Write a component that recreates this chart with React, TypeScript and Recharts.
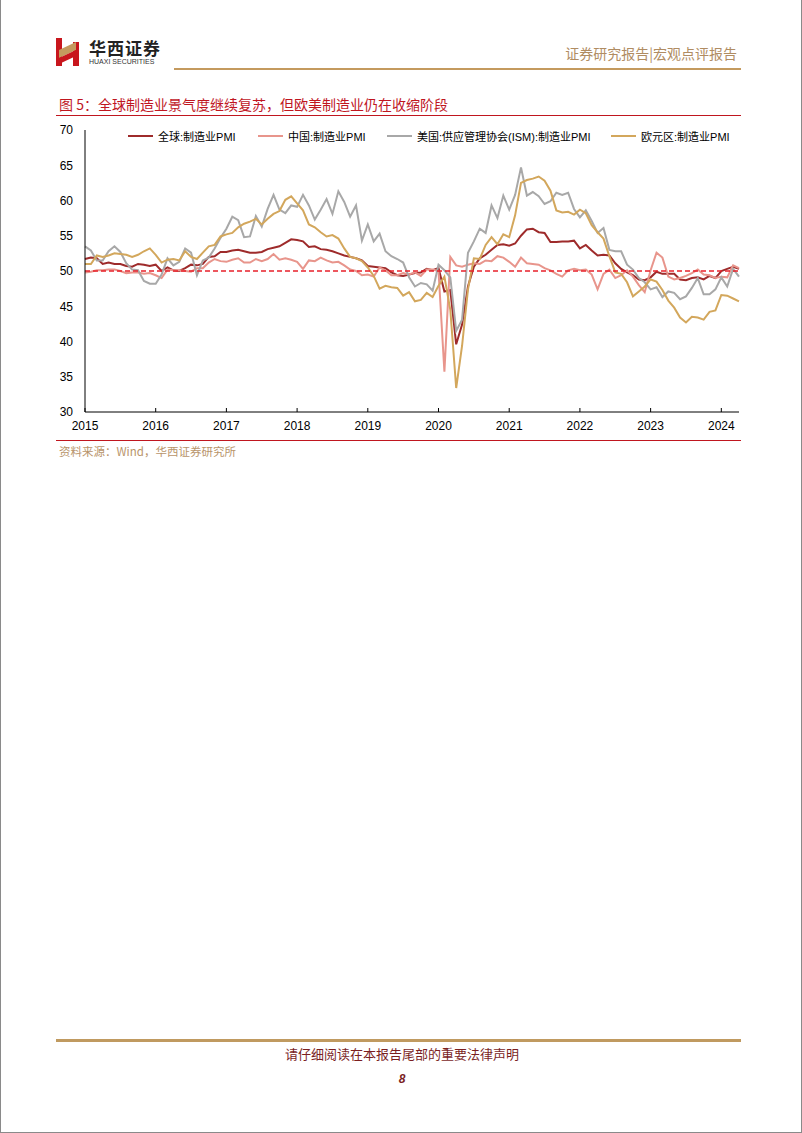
import React from "react";
import { LineChart, Line, XAxis, YAxis, ReferenceLine, Legend } from "recharts";

// months Jan 2015 .. Apr 2024
const months: string[] = [];
for (let y = 2015; y <= 2024; y++) {
  const last = y === 2024 ? 4 : 12;
  for (let m = 1; m <= last; m++) months.push(`${y}-${String(m).padStart(2, "0")}`);
}

const yearTicks = ["2015-01", "2016-01", "2017-01", "2018-01", "2019-01", "2020-01", "2021-01", "2022-01", "2023-01", "2024-01"];
const yTicks = [30, 35, 40, 45, 50, 55, 60, 65, 70];

const globalPmi = [
  51.7, 51.9, 51.8, 51.0, 51.2, 51.0, 51.0, 50.7, 50.6, 51.0, 50.9, 50.7,
  50.9, 50.0, 50.5, 50.1, 50.0, 50.4, 50.9, 50.8, 51.0, 52.0, 52.1, 52.7,
  52.7, 52.9, 53.0, 52.8, 52.6, 52.6, 52.7, 53.1, 53.3, 53.5, 54.0, 54.5,
  54.4, 54.2, 53.4, 53.5, 53.1, 53.0, 52.8, 52.5, 52.2, 52.0, 51.8, 51.5,
  50.7, 50.6, 50.5, 50.4, 49.8, 49.4, 49.3, 49.5, 49.7, 49.8, 50.3, 50.1,
  50.4, 47.1, 47.3, 39.6, 42.4, 47.8, 50.6, 51.8, 52.3, 53.0, 53.7, 53.8,
  53.6, 53.9, 55.0, 55.9, 56.0, 55.5, 55.4, 54.1, 54.1, 54.2, 54.2, 54.3,
  53.2, 53.7, 52.9, 52.2, 52.3, 52.2, 51.1, 50.3, 49.8, 49.4, 48.8, 48.7,
  49.1, 49.9, 49.6, 49.6, 49.6, 48.8, 48.7, 49.0, 49.1, 48.8, 49.3, 49.0,
  50.0, 50.3, 50.6, 50.3,
];

const chinaPmi = [
  49.8, 49.9, 50.1, 50.1, 50.2, 50.2, 50.0, 49.7, 49.8, 49.8, 49.6, 49.7,
  49.4, 49.0, 50.2, 50.1, 50.1, 50.0, 49.9, 50.4, 50.4, 51.2, 51.7, 51.4,
  51.3, 51.6, 51.8, 51.2, 51.2, 51.7, 51.4, 51.7, 52.4, 51.6, 51.8, 51.6,
  51.3, 50.3, 51.5, 51.4, 51.9, 51.5, 51.2, 51.3, 50.8, 50.2, 50.0, 49.4,
  49.5, 49.2, 50.5, 50.1, 49.4, 49.4, 49.7, 49.5, 49.8, 49.3, 50.2, 50.2,
  50.0, 35.7, 52.0, 50.8, 50.6, 50.9, 51.1, 51.0, 51.5, 51.4, 52.1, 51.9,
  51.3, 50.6, 51.9, 51.1, 51.0, 50.9, 50.4, 50.1, 49.6, 49.2, 50.1, 50.3,
  50.1, 50.2, 49.5, 47.4, 49.6, 50.2, 49.0, 49.4, 50.1, 49.2, 48.0, 47.0,
  50.1, 52.6, 51.9, 49.2, 48.8, 49.0, 49.3, 49.7, 50.2, 49.5, 49.4, 49.0,
  49.2, 49.1, 50.8, 50.4,
];

const usIsmPmi = [
  53.5, 52.9, 51.5, 51.5, 52.8, 53.5, 52.7, 51.1, 50.2, 50.1, 48.6, 48.2,
  48.2, 49.5, 51.8, 50.8, 51.3, 53.2, 52.6, 49.4, 51.5, 51.9, 53.2, 54.7,
  56.0, 57.7, 57.2, 54.8, 54.9, 57.8, 56.3, 58.8, 60.8, 58.7, 58.2, 59.3,
  59.1, 60.8, 59.3, 57.3, 58.7, 60.2, 58.1, 61.3, 59.8, 57.7, 59.3, 54.3,
  56.6, 54.2, 55.3, 52.8, 52.1, 51.7, 51.2, 49.1, 47.8, 48.3, 48.1, 47.2,
  50.9, 50.1, 49.1, 41.5, 43.1, 52.6, 54.2, 56.0, 55.4, 59.3, 57.5, 60.7,
  58.7, 60.8, 64.7, 60.7, 61.2, 60.6, 59.5, 59.9, 61.1, 60.8, 61.1, 58.8,
  57.6, 58.6, 57.1, 55.4, 56.1, 53.0, 52.8, 52.8, 50.9, 50.2, 49.0, 48.4,
  47.4, 47.7, 46.3, 47.1, 46.9, 46.0, 46.4, 47.6, 49.0, 46.7, 46.7, 47.4,
  49.1, 47.8, 50.3, 49.2,
];

const euroPmi = [
  51.0, 51.0, 52.2, 52.0, 52.2, 52.5, 52.4, 52.3, 52.0, 52.3, 52.8, 53.2,
  52.3, 51.2, 51.6, 51.7, 51.5, 52.8, 52.0, 51.7, 52.6, 53.5, 53.7, 54.9,
  55.2, 55.4, 56.2, 56.7, 57.0, 57.4, 56.6, 57.4, 58.1, 58.5, 60.1, 60.6,
  59.6, 58.6, 56.6, 56.2, 55.5, 54.9, 55.1, 54.6, 53.2, 52.0, 51.8, 51.4,
  50.5, 49.3, 47.5, 47.9, 47.7, 47.6, 46.5, 47.0, 45.7, 45.9, 46.9, 46.3,
  47.9, 49.2, 44.5, 33.4, 39.4, 47.4, 51.8, 51.7, 53.7, 54.8, 53.8, 55.2,
  54.8, 57.9, 62.5, 62.9, 63.1, 63.4, 62.8, 61.4, 58.6, 58.3, 58.4, 58.0,
  58.7, 58.2, 56.5, 55.5, 54.6, 52.1, 49.8, 49.6, 48.4, 46.4, 47.1, 47.8,
  48.8, 48.5, 47.3, 45.8, 44.8, 43.4, 42.7, 43.5, 43.4, 43.1, 44.2, 44.4,
  46.6, 46.5, 46.1, 45.7,
];

const seriesNames = ["全球:制造业PMI", "中国:制造业PMI", "美国:供应管理协会(ISM):制造业PMI", "欧元区:制造业PMI"];
const seriesColors = ["#9e2b2b", "#e8958c", "#a8a8a8", "#d3a75c"];
const legendLeft = [127, 257, 386, 610];

const data = months.map((m, i) => ({
  month: m,
  g: globalPmi[i],
  c: chinaPmi[i],
  u: usIsmPmi[i],
  e: euroPmi[i],
}));

const keys = ["g", "c", "u", "e"];
const chartFont = "'Liberation Sans', Arial, 'Noto Sans CJK SC', sans-serif";
const cjk = "'Noto Sans CJK SC', sans-serif";

const renderLegend = () => (
  <div style={{ position: "relative", height: 16, fontFamily: chartFont, fontSize: 11, color: "#000" }}>
    {seriesNames.map((n, i) => (
      <div key={n} style={{ position: "absolute", left: legendLeft[i], top: 0, display: "flex", alignItems: "center", whiteSpace: "nowrap" }}>
        <svg width={25} height={4} style={{ marginRight: 5 }}>
          <line x1={0} y1={2} x2={25} y2={2} stroke={seriesColors[i]} strokeWidth={2} />
        </svg>
        <span>{n}</span>
      </div>
    ))}
  </div>
);

export default function App() {
  return (
    <div style={{ position: "absolute", left: 0, top: 0, width: 802, height: 1133, background: "#fff", boxSizing: "border-box", borderLeft: "1px solid #8a8a8a", borderRight: "1px solid #8a8a8a", borderBottom: "1px solid #8a8a8a", overflow: "hidden" }}>
      {/* logo */}
      <div style={{ position: "absolute", left: 55, top: 38, width: 6, height: 28, background: "#c8161d" }} />
      <div style={{ position: "absolute", left: 72, top: 42, width: 6, height: 24, background: "#c8161d" }} />
      <div style={{ position: "absolute", left: 58, top: 46, width: 17, height: 8, background: "#c49a5e", transform: "skewY(-25deg)" }} />
      <div style={{ position: "absolute", left: 58, top: 54, width: 17, height: 6, background: "#c8161d", transform: "skewY(-25deg)" }} />
      <div style={{ position: "absolute", left: 88, top: 39, fontFamily: cjk, fontWeight: 700, fontSize: 17, lineHeight: "17px", color: "#222", letterSpacing: 1 }}>华西证券</div>
      <div style={{ position: "absolute", left: 88, top: 58, fontFamily: chartFont, fontSize: 7, lineHeight: "8px", color: "#333" }}>HUAXI SECURITIES</div>

      <div style={{ position: "absolute", right: 64, top: 45, fontFamily: cjk, fontSize: 14, lineHeight: "16px", color: "#b08c62" }}>证券研究报告|宏观点评报告</div>
      <div style={{ position: "absolute", left: 173, top: 68, width: 567, height: 2, background: "#c49a5e" }} />

      <div style={{ position: "absolute", left: 58, top: 96, fontFamily: cjk, fontSize: 14, lineHeight: "16px", color: "#c0161f", whiteSpace: "nowrap" }}>图 5：全球制造业景气度继续复苏，但欧美制造业仍在收缩阶段</div>
      <div style={{ position: "absolute", left: 55, top: 115, width: 685, height: 1, background: "#c0161f" }} />

      <div style={{ position: "absolute", left: 0, top: 0 }}>
        <LineChart width={802} height={440} data={data} margin={{ top: 130, right: 64, bottom: 0, left: 0 }}>
          <XAxis
            dataKey="month"
            ticks={yearTicks}
            interval={0}
            tickFormatter={(v: string) => v.slice(0, 4)}
            height={28}
            tickSize={-4}
            tickMargin={13}
            axisLine={{ stroke: "#000" }}
            tickLine={{ stroke: "#000" }}
            tick={{ fontSize: 12, fill: "#000", fontFamily: chartFont }}
          />
          <YAxis
            width={84}
            domain={[30, 70]}
            ticks={yTicks}
            interval={0}
            tickLine={false}
            tickSize={0}
            tickMargin={12}
            axisLine={{ stroke: "#000" }}
            tick={{ fontSize: 12, fill: "#000", fontFamily: chartFont }}
          />
          <Legend verticalAlign="middle" wrapperStyle={{ left: 0, top: 128, width: 802 }} content={renderLegend} />
          {keys.map((k, i) => (
            <Line
              key={k}
              dataKey={k}
              name={seriesNames[i]}
              stroke={seriesColors[i]}
              strokeWidth={2}
              dot={false}
              type="linear"
              isAnimationActive={false}
            />
          ))}
          <ReferenceLine y={50} stroke="#e8202a" strokeDasharray="5 3" strokeWidth={1.5} />
        </LineChart>
      </div>

      <div style={{ position: "absolute", left: 55, top: 440, width: 685, height: 1, background: "#c0161f" }} />
      <div style={{ position: "absolute", left: 58, top: 445, fontFamily: cjk, fontSize: 11.5, lineHeight: "13px", color: "#b8946a", whiteSpace: "nowrap" }}>资料来源：Wind，华西证券研究所</div>

      <div style={{ position: "absolute", left: 55, top: 1039, width: 685, height: 3, background: "#c09a60" }} />
      <div style={{ position: "absolute", left: 0, width: 802, top: 1046, textAlign: "center", fontFamily: cjk, fontSize: 13, lineHeight: "15px", color: "#7b1f1f" }}>请仔细阅读在本报告尾部的重要法律声明</div>
      <div style={{ position: "absolute", left: 0, width: 802, top: 1072, textAlign: "center", fontFamily: chartFont, fontSize: 12, lineHeight: "14px", fontWeight: 700, fontStyle: "italic", color: "#7b1f1f" }}>8</div>
    </div>
  );
}
